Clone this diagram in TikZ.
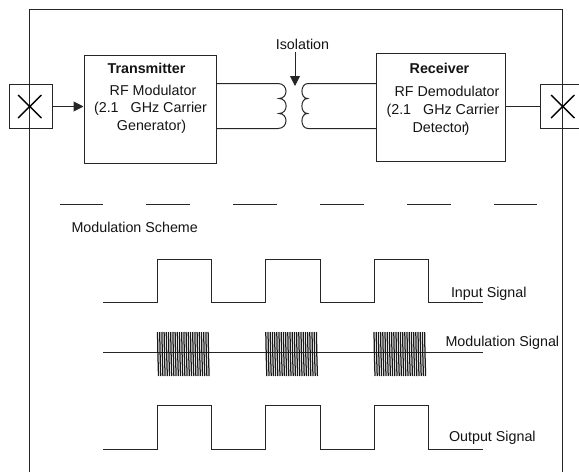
\documentclass[tikz,border=0pt]{standalone}
\usepackage{fontspec}
\setmainfont{Liberation Sans}
\usetikzlibrary{arrows.meta}
\tikzset{
  x=1pt,y=-1pt,
  every path/.style={line width=1pt},
  wire/.style={draw=black!85},
  blockbox/.style={draw=black!85,fill=none,inner sep=0pt,anchor=north west},
  portbox/.style={draw=black!85,inner sep=0pt,minimum size=43.5pt},
  lbl/.style={inner sep=0pt,anchor=base,font=\fontsize{14.3}{17}\selectfont,text=black!92},
  lbll/.style={lbl,anchor=base west},
  boldlbl/.style={lbl,font=\fontsize{14.3}{17}\selectfont\bfseries},
  tip/.style={-{Triangle[length=10pt,width=10pt]}},
  xmark/.style={line width=1.4pt,black},
  burst/.style={line width=1.25pt,black!90},
}
\begin{document}
\begin{tikzpicture}
\useasboundingbox (0,0) rectangle (579,472);
% frame
\coordinate (fbl) at (29.5,472);
\coordinate (ftl) at (29.5,9);
\coordinate (ftr) at (562.5,9);
\coordinate (fbr) at (562.5,472);
\draw[wire] (fbl) -- (ftl) -- (ftr) -- (fbr);
% ports
\node[portbox] (pl) at (31,106.5) {};
\node[portbox,minimum width=50pt] (pr) at (565,106.5) {};
\draw[xmark] (18,95) -- (41.5,118) (18,118) -- (41.5,95);
\draw[xmark] (551,95) -- (574.5,118) (551,118) -- (574.5,95);
% blocks
\node[blockbox,minimum width=132pt,minimum height=108.5pt] (tx) at (83.5,54.5) {};
\node[blockbox,minimum width=128.7pt,minimum height=108.5pt] (rx) at (376,52.5) {};
\node[boldlbl] (txt) at (146.5,73) {Transmitter};
\node[lbl] (tx1) at (153,95) {RF Modulator};
\node[lbl] (tx2) at (150.5,112.5) {(2.1\hspace{8pt} GHz Carrier};
\node[lbl] (tx3) at (151.5,130) {Generator)};
\node[boldlbl] (rxt) at (439.5,73) {Receiver};
\node[lbl] (rx1) at (447,96.7) {RF Demodulator};
\node[lbl] (rx2) at (443,114) {(2.1\hspace{8pt} GHz Carrier};
\node[lbl] (rx3) at (441,132.3) {Detector\kern-2pt)};
% connections to blocks
\draw[wire,tip] (pl.east) -- (tx.west |- pl.east);
\draw[wire] (rx.east |- pr.west) -- (pr.west);
% coils
\coordinate (cl1) at (278,83.5);
\coordinate (cl2) at (278,128.5);
\coordinate (cr1) at (308,83.5);
\coordinate (cr2) at (308,128.5);
\draw[wire] (tx.east |- cl1) -- (cl1)
  .. controls (288.5,83.5) and (288.5,98.5) .. (279,98.5)
  .. controls (288.5,98.5) and (288.5,113.5) .. (279,113.5)
  .. controls (288.5,113.5) and (288.5,128.5) .. (cl2) -- (tx.east |- cl2);
\draw[wire] (rx.west |- cr1) -- (cr1)
  .. controls (300,83.5) and (300,98.5) .. (307.5,98.5)
  .. controls (300,98.5) and (300,113.5) .. (307.5,113.5)
  .. controls (300,113.5) and (300,128.5) .. (cr2) -- (rx.west |- cr2);
% isolation
\node[lbl] (iso) at (302.5,49) {Isolation};
\coordinate (isoT) at (295,52);
\coordinate (isoB) at (295,86);
\draw[wire,tip] (isoT) -- (isoB);
% dashes
\foreach \a/\b in {59.5/103,146/190,233/277,320/364,407/451,494/537}
  \draw[wire] (\a,204.5) -- (\b,204.5);
\node[lbll] (ms) at (71,232.7) {Modulation Scheme};
% input
\draw[wire] (103,302.5) -- (157,302.5) -- (157,259) -- (211,259) -- (211,302.5) -- (265.5,302.5) -- (265.5,259) -- (320,259) -- (320,302.5) -- (374,302.5) -- (374,259) -- (428,259) -- (428,302.5) -- (483,302.5);
\node[lbll] (il) at (450.5,297.3) {Input Signal};
% modulation
\draw[wire] (103,352.5) -- (483,352.5);
\foreach \s in {157.5,265.8,374}{
  \foreach \i in {0,...,23}{
    \draw[burst] ({\s+\i*2.2},332) -- ({\s+\i*2.2+.4},354) -- ({\s+\i*2.2+1},376);
  }
}
\node[lbll] (ml) at (445,346.7) {Modulation Signal};
% output
\draw[wire] (103,449.5) -- (157,449.5) -- (157,405.5) -- (211,405.5) -- (211,449.5) -- (265.5,449.5) -- (265.5,405.5) -- (320,405.5) -- (320,449.5) -- (374,449.5) -- (374,405.5) -- (428,405.5) -- (428,449.5) -- (483,449.5);
\node[lbll] (ol) at (448.5,441.7) {Output Signal};
\end{tikzpicture}
\end{document}
